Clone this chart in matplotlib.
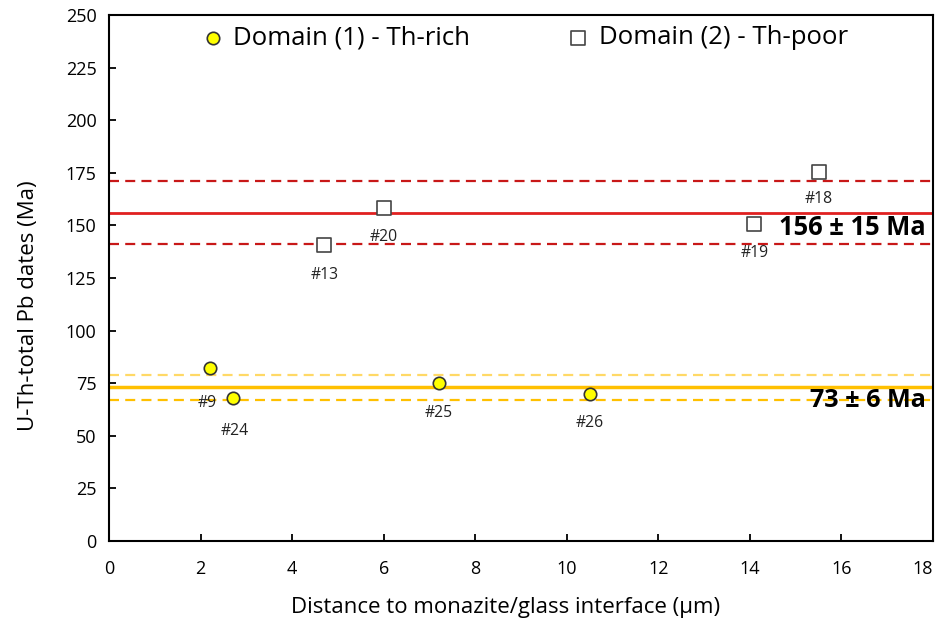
import matplotlib.pyplot as plt

plt.rcParams['font.family'] = ['Open Sans', 'DejaVu Sans']

# Domain (1) - Th-rich
d1_x = [2.2, 2.7, 7.2, 10.5]
d1_y = [82, 68, 75, 70]
d1_lab = ['#9', '#24', '#25', '#26']
d1_lab_xy = [(2.15, 65.5), (2.75, 52.5), (7.2, 61), (10.5, 56)]

# Domain (2) - Th-poor
d2_x = [4.7, 6.0, 14.1, 15.5]
d2_y = [140.5, 158.5, 150.5, 175.5]
d2_lab = ['#13', '#20', '#19', '#18']
d2_lab_xy = [(4.7, 126.5), (6.0, 144.5), (14.1, 137), (15.5, 162.5)]

# weighted mean ages
age_old, err_old = 156, 15
age_young, err_young = 73, 6
old_band = (171, 141)
young_band = (79, 67)

fig = plt.figure(figsize=(9.37, 6.27), dpi=100)
ax = fig.add_axes([0.1163, 0.1372, 0.8794, 0.8388])

red = '#e02020'
gold = '#ffc000'
dash = (0, (4.5, 2.8))
ax.axhline(age_old, color=red, lw=2, zorder=1)
for v in old_band:
    ax.axhline(v, color='#c81818', lw=1.6, ls=dash, zorder=1)
ax.axhline(age_young, color=gold, lw=2.5, zorder=1)
ax.axhline(young_band[0], color='#ffd966', lw=1.6, ls=dash, zorder=1)
ax.axhline(young_band[1], color=gold, lw=1.6, ls=dash, zorder=1)

ax.scatter(d1_x, d1_y, s=80, marker='o', facecolor='#ffff00', edgecolor='#333333',
           lw=1.2, zorder=3, label='Domain (1) - Th-rich')
ax.scatter(d2_x, d2_y, s=100, marker='s', facecolor='white', edgecolor='#444444',
           lw=1.2, zorder=3, label='Domain (2) - Th-poor')

for lab, (x, y) in zip(d1_lab + d2_lab, d1_lab_xy + d2_lab_xy):
    ax.text(x, y, lab, ha='center', va='center', fontsize=11.3, color='#222222')

ax.text(17.85, 148.8, f'{age_old} ± {err_old} Ma', ha='right', va='center',
        fontsize=18.4, fontweight='bold')
ax.text(17.85, 67, f'{age_young} ± {err_young} Ma', ha='right', va='center',
        fontsize=18.2, fontweight='bold')

ax.set_xlim(0, 18)
ax.set_ylim(0, 250)
ax.set_xticks(range(0, 19, 2))
ax.set_yticks(range(0, 251, 25))
ax.tick_params(direction='in', length=5, width=1.3, labelsize=13)
ax.tick_params(axis='x', pad=14)
ax.tick_params(axis='y', pad=9)
ax.get_xticklabels()[-1].set_ha('right')
for s in ax.spines.values():
    s.set_linewidth(1.5)
ax.set_xlabel('Distance to monazite/glass interface (μm)', fontsize=16)
ax.set_ylabel('U-Th-total Pb dates (Ma)', fontsize=16)
ax.xaxis.set_label_coords(0.481, -0.106)
ax.yaxis.set_label_coords(-0.085, 0.447)

ax.legend(loc='upper center', ncol=2, frameon=False, fontsize=18.5, handlelength=0.8,
          handletextpad=0.4, columnspacing=3.8, borderaxespad=0.0,
          bbox_to_anchor=(0.505, 1.0))

fig.savefig('out.png', dpi=100)
